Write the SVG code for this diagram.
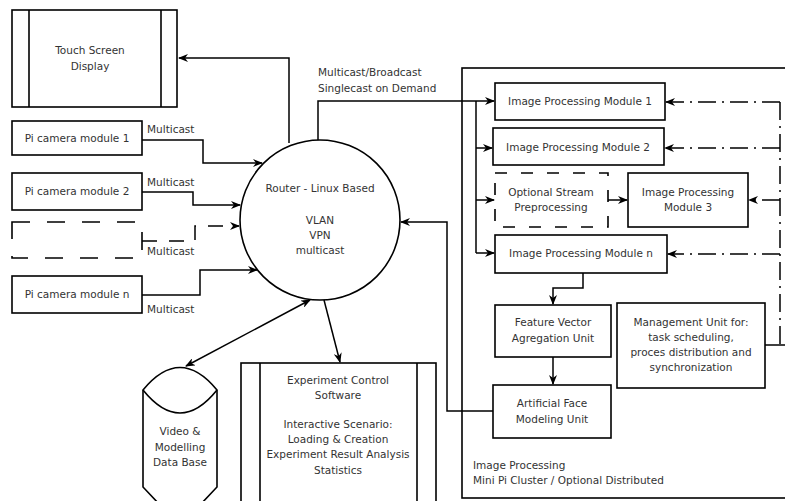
<svg xmlns="http://www.w3.org/2000/svg" width="785" height="501" viewBox="0 0 785 501">
<defs>
<marker id="ah" viewBox="0 0 10 8" refX="9" refY="4" markerWidth="10" markerHeight="8" markerUnits="userSpaceOnUse" orient="auto-start-reverse">
<path d="M0,0 L10,4 L0,8 L3,4 z" fill="#000"/>
</marker>
<style>
.b{fill:#fff;stroke:#000;stroke-width:1.6}
.n{fill:none;stroke:#000;stroke-width:1.6}
.c{fill:none;stroke:#000;stroke-width:1.5}
.d{stroke-dasharray:18 17}
.dd{stroke-dasharray:12 14}
.dc{stroke-dasharray:15 12}
.dt{stroke-dasharray:18 6 2 6}
text{font-family:"DejaVu Sans",sans-serif;font-size:10.5px;fill:#333}
.m{text-anchor:middle}
</style>
</defs>
<rect width="785" height="501" fill="#fff"/>

<g id="container">
<rect class="n" x="462" y="68" width="330" height="430"/>
<text x="473" y="469">Image Processing</text>
<text x="473" y="484">Mini Pi Cluster / Optional Distributed</text>
</g>

<g id="touch">
<rect class="b" x="12" y="10" width="165" height="97"/>
<line class="n" x1="29" y1="10" x2="29" y2="107"/>
<line class="n" x1="161" y1="10" x2="161" y2="107"/>
<text class="m" x="90" y="54">Touch Screen</text>
<text class="m" x="90" y="70">Display</text>
</g>

<g id="cam1">
<rect class="b" x="12" y="121" width="130" height="34"/>
<text class="m" x="77" y="142">Pi camera module 1</text>
</g>
<g id="cam2">
<rect class="b" x="12" y="173" width="130" height="37"/>
<text class="m" x="77" y="195">Pi camera module 2</text>
</g>
<g id="camdash">
<rect class="n d" x="12" y="222" width="130" height="36"/>
</g>
<g id="camn">
<rect class="b" x="12" y="276" width="130" height="37"/>
<text class="m" x="77" y="298">Pi camera module n</text>
</g>

<g id="router">
<circle class="b" cx="320" cy="220" r="80"/>
<text class="m" x="320" y="192">Router - Linux Based</text>
<text class="m" x="320" y="224">VLAN</text>
<text class="m" x="320" y="239">VPN</text>
<text class="m" x="320" y="254">multicast</text>
</g>

<g id="db">
<path class="b" d="M143,390 Q180,345 217,390 V487 L200,505 H160 L143,487 Z"/>
<path class="n" d="M143,390 Q180,436 217,390"/>
<text class="m" x="180" y="435">Video &amp;</text>
<text class="m" x="180" y="451">Modelling</text>
<text class="m" x="180" y="466">Data Base</text>
</g>

<g id="experiment">
<rect class="b" x="241" y="363" width="195" height="150"/>
<line class="n" x1="260" y1="363" x2="260" y2="505"/>
<line class="n" x1="417" y1="363" x2="417" y2="505"/>
<text class="m" x="338" y="384">Experiment Control</text>
<text class="m" x="338" y="399">Software</text>
<text class="m" x="338" y="428">Interactive Scenario:</text>
<text class="m" x="338" y="443">Loading &amp; Creation</text>
<text class="m" x="338" y="458">Experiment Result Analysis</text>
<text class="m" x="338" y="474">Statistics</text>
</g>

<g id="ipm1">
<rect class="b" x="495" y="83" width="170" height="37"/>
<text class="m" x="580" y="105">Image Processing Module 1</text>
</g>
<g id="ipm2">
<rect class="b" x="493" y="128" width="171" height="37"/>
<text class="m" x="578" y="151">Image Processing Module 2</text>
</g>
<g id="optional">
<rect class="n dd" x="495" y="173" width="113" height="54"/>
<text class="m" x="551" y="196">Optional Stream</text>
<text class="m" x="551" y="211">Preprocessing</text>
</g>
<g id="ipm3">
<rect class="b" x="628" y="173" width="120" height="54"/>
<text class="m" x="688" y="196">Image Processing</text>
<text class="m" x="688" y="211">Module 3</text>
</g>
<g id="ipmn">
<rect class="b" x="495" y="235" width="172" height="38"/>
<text class="m" x="581" y="257">Image Processing Module n</text>
</g>
<g id="feature">
<rect class="b" x="495" y="305" width="116" height="52"/>
<text class="m" x="553" y="326">Feature Vector</text>
<text class="m" x="553" y="342">Agregation Unit</text>
</g>
<g id="face">
<rect class="b" x="493" y="385" width="118" height="53"/>
<text class="m" x="552" y="407">Artificial Face</text>
<text class="m" x="552" y="423">Modeling Unit</text>
</g>
<g id="mgmt">
<rect class="b" x="617" y="303" width="148" height="85"/>
<text class="m" x="691" y="326">Management Unit for:</text>
<text class="m" x="691" y="341">task scheduling,</text>
<text class="m" x="691" y="356">proces distribution and</text>
<text class="m" x="691" y="371">synchronization</text>
</g>

<g id="connectors">
<path class="c" d="M289,143 V58 H179" marker-end="url(#ah)"/>
<path class="c" d="M142,140 H203 V163 H262" marker-end="url(#ah)"/>
<path class="c" d="M142,192 H193 V205 H240" marker-end="url(#ah)"/>
<path class="c dc" d="M142,241 H195 V226 H239" marker-end="url(#ah)"/>
<path class="c" d="M142,295 H200 V270 H257" marker-end="url(#ah)"/>
<path class="c" d="M318,140 V101 H494" marker-end="url(#ah)"/>
<path class="c" d="M476,101 V253"/>
<path class="c" d="M476,148 H492" marker-end="url(#ah)"/>
<path class="c" d="M476,200 H494" marker-end="url(#ah)"/>
<path class="c" d="M476,253 H494" marker-end="url(#ah)"/>
<path class="c" d="M493,411 H447 V222 H401" marker-end="url(#ah)"/>
<path class="c" d="M583,273 V288 H553 V304" marker-end="url(#ah)"/>
<path class="c" d="M553,357 V384" marker-end="url(#ah)"/>
<path class="c" d="M608,200 H627" marker-end="url(#ah)"/>
<path class="c" d="M310,300 L186,366" marker-start="url(#ah)" marker-end="url(#ah)"/>
<path class="c" d="M324,300 L340,362" marker-end="url(#ah)"/>
<path class="c dt" d="M780,102 V345"/>
<path class="c dt" d="M780,102 H666" marker-end="url(#ah)"/>
<path class="c dt" d="M780,148 H665" marker-end="url(#ah)"/>
<path class="c dt" d="M780,200 H749" marker-end="url(#ah)"/>
<path class="c dt" d="M780,254 H668" marker-end="url(#ah)"/>
<path class="c" d="M765,345 H785"/>
<text x="147" y="133">Multicast</text>
<text x="147" y="186">Multicast</text>
<text x="147" y="255">Multicast</text>
<text x="147" y="313">Multicast</text>
<text x="318" y="76">Multicast/Broadcast</text>
<text x="318" y="92">Singlecast on Demand</text>
</g>
</svg>
